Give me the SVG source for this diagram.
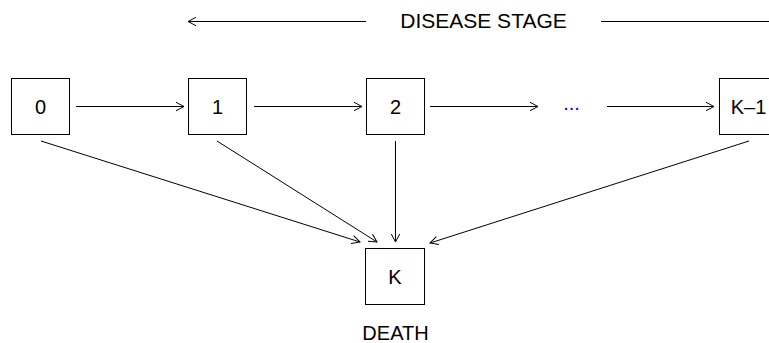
<svg xmlns="http://www.w3.org/2000/svg" width="769" height="343" viewBox="0 0 769 343">
  <defs>
    <marker id="arr" markerUnits="userSpaceOnUse" markerWidth="12" markerHeight="12" refX="9" refY="5" orient="auto" overflow="visible">
      <path d="M1,0.8 L9,5 L1,9.2" fill="none" stroke="#000" stroke-width="1"/>
    </marker>
    <style>
      .box { fill: #fff; stroke: #000; stroke-width: 1; }
      .lbl { font-family: "Liberation Sans", Arial, sans-serif; font-size: 20px; fill: #000; text-anchor: middle; }
      .edge { stroke: #000; stroke-width: 1; fill: none; marker-end: url(#arr); }
      .plain { stroke: #000; stroke-width: 1; fill: none; }
    </style>
  </defs>
  <rect width="769" height="343" fill="#fff"/>

  <g id="header">
    <line class="edge" x1="366" y1="21.5" x2="188" y2="21.5"/>
    <text class="lbl" x="483.5" y="28" style="font-size:21px">DISEASE STAGE</text>
    <line class="plain" x1="601" y1="21.5" x2="769" y2="21.5"/>
  </g>

  <g id="connectors">
    <line class="edge" x1="76" y1="106.5" x2="184" y2="106.5"/>
    <line class="edge" x1="254" y1="106.5" x2="362" y2="106.5"/>
    <line class="edge" x1="430" y1="106.5" x2="538" y2="106.5"/>
    <line class="edge" x1="607" y1="106.5" x2="714" y2="106.5"/>
    <line class="edge" x1="41" y1="141" x2="360" y2="242"/>
    <line class="edge" x1="217" y1="141" x2="377" y2="242"/>
    <line class="edge" x1="395.5" y1="141" x2="395.5" y2="242"/>
    <line class="edge" x1="749" y1="141" x2="430" y2="243"/>
  </g>

  <g id="node-0">
    <rect class="box" x="11.5" y="78.5" width="58" height="56"/>
    <text class="lbl" x="40.5" y="113.5">0</text>
  </g>
  <g id="node-1">
    <rect class="box" x="188.5" y="78.5" width="58" height="56"/>
    <text class="lbl" x="217.5" y="113.5">1</text>
  </g>
  <g id="node-2">
    <rect class="box" x="366.5" y="78.5" width="58" height="56"/>
    <text class="lbl" x="395.5" y="113.5">2</text>
  </g>
  <g id="node-dots">
    <text class="lbl" x="571.5" y="110" style="fill:#0000ff">...</text>
  </g>
  <g id="node-k1">
    <rect class="box" x="719.5" y="78.5" width="58" height="56"/>
    <text class="lbl" x="748.5" y="113.5">K–1</text>
  </g>
  <g id="node-k">
    <rect class="box" x="365.5" y="248.5" width="59" height="56"/>
    <text class="lbl" x="395" y="284">K</text>
    <text class="lbl" x="395.5" y="340">DEATH</text>
  </g>
</svg>
